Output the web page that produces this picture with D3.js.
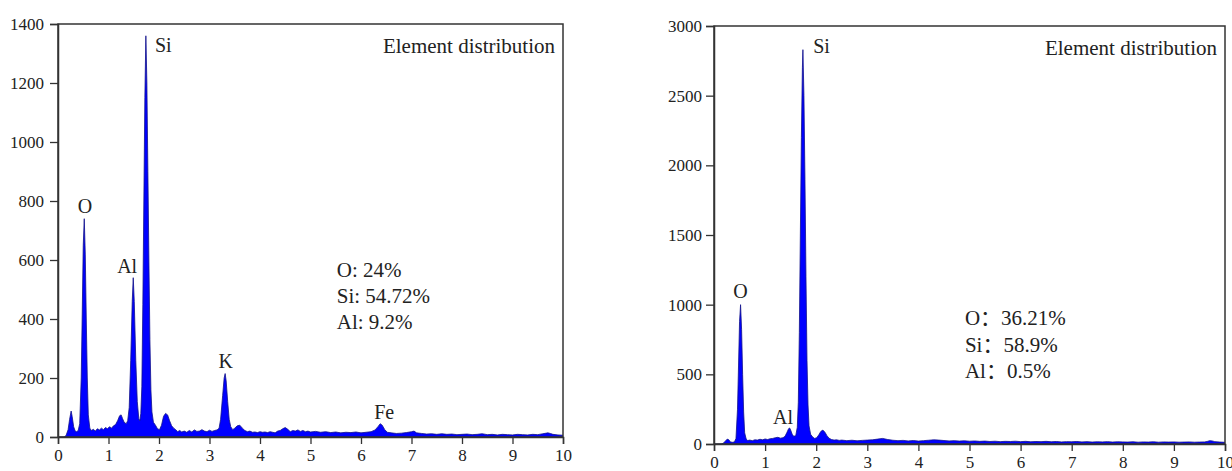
<!DOCTYPE html>
<html>
<head>
<meta charset="utf-8">
<script src="https://cdn.jsdelivr.net/npm/d3@7"></script>
<style>
  html, body { margin: 0; padding: 0; background: #fff; }
  svg { display: block; }
  text { font-family: "Liberation Serif", "Times New Roman", "Noto Sans CJK SC", serif; fill: #222; }
</style>
</head>
<body>
<svg id="chart" width="1232" height="471"></svg>
<script>
// ---------- DATA ----------
const xTicks = [0, 1, 2, 3, 4, 5, 6, 7, 8, 9, 10];
const yTicksA = [0, 200, 400, 600, 800, 1000, 1200, 1400];
const yTicksB = [0, 500, 1000, 1500, 2000, 2500, 3000];

// Spectrum A (left): energy (keV) and counts
const energyA = [0.00,0.12,0.16,0.20,0.23,0.26,0.28,0.31,0.34,0.37,0.40,0.43,0.46,0.48,0.50,0.52,0.54,0.56,0.58,0.60,0.63,0.66,0.70,0.74,0.78,0.82,0.86,0.90,0.94,0.98,1.02,1.06,1.10,1.14,1.18,1.22,1.25,1.28,1.31,1.35,1.38,1.41,1.44,1.47,1.49,1.51,1.54,1.57,1.60,1.62,1.64,1.66,1.68,1.70,1.72,1.74,1.76,1.78,1.80,1.82,1.84,1.86,1.89,1.93,1.97,2.01,2.05,2.09,2.13,2.17,2.21,2.25,2.29,2.33,2.37,2.41,2.45,2.50,2.55,2.60,2.65,2.70,2.75,2.80,2.85,2.90,2.95,3.00,3.05,3.10,3.15,3.19,3.22,3.26,3.29,3.31,3.33,3.36,3.39,3.42,3.46,3.50,3.55,3.60,3.65,3.70,3.75,3.80,3.85,3.90,3.95,4.00,4.05,4.10,4.15,4.20,4.25,4.30,4.35,4.40,4.45,4.50,4.55,4.60,4.65,4.70,4.75,4.80,4.85,4.90,4.95,5.00,5.10,5.20,5.30,5.40,5.50,5.60,5.70,5.80,5.90,6.00,6.10,6.20,6.28,6.34,6.38,6.42,6.47,6.52,6.60,6.70,6.80,6.90,7.00,7.05,7.10,7.20,7.30,7.40,7.50,7.60,7.70,7.80,7.90,8.00,8.10,8.20,8.30,8.40,8.50,8.60,8.70,8.80,8.90,9.00,9.10,9.20,9.30,9.40,9.50,9.60,9.70,9.75,9.80,9.90,10.00];
const countsA = [0,0,5,25,60,88,70,35,20,18,22,45,200,420,650,740,620,400,200,75,30,22,26,20,28,24,30,25,32,28,35,30,38,42,55,72,75,62,50,45,55,100,260,460,540,460,260,120,62,55,80,170,450,800,1150,1360,1200,900,600,330,160,85,50,40,28,25,40,70,80,75,55,38,30,25,18,22,17,20,16,22,17,24,19,20,25,20,18,23,19,22,24,30,60,140,200,215,190,120,60,35,25,30,38,40,30,22,18,20,16,17,15,18,16,17,15,18,16,14,20,22,28,32,26,18,22,20,24,19,22,18,20,17,19,16,18,15,17,14,16,15,17,14,16,18,24,36,45,40,25,16,14,12,13,15,18,20,14,12,10,11,9,11,9,10,8,9,10,8,9,11,8,9,7,9,8,7,9,8,7,9,8,11,14,12,9,7,6];

// Spectrum B (right): energy (keV) and counts
const energyB = [
  0.00,0.14,0.18,0.22,0.26,0.29,0.32,0.36,0.40,0.43,
  0.46,0.48,0.50,0.52,0.54,0.56,0.58,0.60,0.63,0.66,
  0.70,0.75,0.80,0.85,0.90,0.95,1.00,1.05,1.10,1.15,
  1.20,1.25,1.30,1.35,1.39,1.43,1.46,1.48,1.50,1.53,
  1.56,1.60,1.63,1.65,1.67,1.69,1.71,1.73,1.74,1.76,
  1.78,1.80,1.82,1.84,1.86,1.89,1.93,1.97,2.01,2.05,
  2.09,2.13,2.17,2.21,2.25,2.30,2.35,2.40,2.45,2.50,
  2.60,2.70,2.80,2.90,3.00,3.10,3.20,3.30,3.40,3.50,
  3.60,3.70,3.80,3.90,4.00,4.10,4.20,4.30,4.40,4.50,
  4.60,4.70,4.80,4.90,5.00,5.10,5.20,5.30,5.40,5.50,
  5.60,5.70,5.80,5.90,6.00,6.10,6.20,6.30,6.40,6.50,
  6.60,6.70,6.80,6.90,7.00,7.10,7.20,7.30,7.40,7.50,
  7.60,7.70,7.80,7.90,8.00,8.10,8.20,8.30,8.40,8.50,
  8.60,8.70,8.80,8.90,9.00,9.10,9.20,9.30,9.40,9.50,
  9.60,9.65,9.70,9.75,9.80,9.90,10.00];
const countsB = [
  0,0,5,20,35,30,15,12,15,40,
  250,560,880,1000,820,500,230,80,35,25,
  28,24,30,28,34,30,36,32,38,40,
  45,48,42,45,55,85,110,115,100,70,
  55,60,120,300,800,1500,2200,2700,2830,2500,
  1900,1200,600,280,130,70,50,40,45,65,
  90,100,85,60,42,32,28,30,26,28,
  24,27,23,26,28,30,35,40,32,27,
  24,26,22,25,21,24,27,30,28,25,
  22,24,21,23,20,22,19,21,18,20,
  17,19,18,20,17,19,16,18,17,19,
  16,18,15,17,16,18,15,17,14,16,
  15,17,14,16,15,14,16,13,15,14,
  16,13,15,14,15,13,14,15,13,14,
  15,18,24,22,17,14,12];

const labelsA = [
  {name: "Si", e: 1.92, c: 1305, anchor: "start"},
  {name: "O",  e: 0.535, c: 759, anchor: "middle"},
  {name: "Al", e: 1.37, c: 556, anchor: "middle"},
  {name: "K",  e: 3.32, c: 234, anchor: "middle"},
  {name: "Fe", e: 6.46, c: 61,  anchor: "middle"}
];
const labelsB = [
  {name: "Si", e: 1.94, c: 2807, anchor: "start"},
  {name: "O",  e: 0.52, c: 1048, anchor: "middle"},
  {name: "Al", e: 1.35, c: 144, anchor: "middle"}
];
const compositionA = ["O: 24%", "Si: 54.72%", "Al: 9.2%"];
const compositionB = ["O：36.21%", "Si：58.9%", "Al：0.5%"];
const titleText = "Element distribution";

// ---------- DRAW ----------
const svg = d3.select("#chart");
svg.append("rect").attr("width", 1232).attr("height", 471).attr("fill", "#fff");

function panel(opt) {
  const g = svg.append("g");
  const x = d3.scaleLinear().domain([0, 10]).range([opt.left, opt.right]);
  const y = d3.scaleLinear().domain([0, opt.ymax]).range([opt.bottom, opt.top]);
  const pts = opt.energy.map((e, i) => [e, opt.counts[i]]);

  const area = d3.area().x(d => x(d[0])).y0(y(0)).y1(d => y(d[1]));
  const line = d3.line().x(d => x(d[0])).y(d => y(d[1]));
  g.append("path").datum(pts).attr("d", area).attr("fill", "#0000ff");
  g.append("path").datum(pts).attr("d", line).attr("fill", "none")
    .attr("stroke", "#12128a").attr("stroke-width", 0.8);

  // frame
  g.append("rect").attr("x", opt.left).attr("y", opt.top)
    .attr("width", opt.right - opt.left).attr("height", opt.bottom - opt.top)
    .attr("fill", "none").attr("stroke", "#333").attr("stroke-width", 1.5);

  const xAxis = g.append("g").attr("transform", `translate(0,${opt.bottom})`)
    .call(d3.axisBottom(x).tickValues(xTicks).tickSize(7).tickPadding(5).tickFormat(d3.format("d")));
  const yAxis = g.append("g").attr("transform", `translate(${opt.left},0)`)
    .call(d3.axisLeft(y).tickValues(opt.yTicks).tickSize(8).tickPadding(opt.yPad).tickFormat(d3.format("d")));
  [xAxis, yAxis].forEach(a => {
    a.select(".domain").attr("stroke", "#333").attr("stroke-width", 1.5);
    a.selectAll(".tick line").attr("stroke", "#333").attr("stroke-width", 1.3);
    a.selectAll(".tick text").attr("font-size", 17)
      .attr("font-family", "'Liberation Serif', serif").attr("fill", "#222");
  });

  // peak labels
  g.selectAll("text.peak").data(opt.labels).enter().append("text")
    .attr("class", "peak")
    .attr("x", d => x(d.e)).attr("y", d => y(d.c))
    .attr("text-anchor", d => d.anchor).attr("font-size", 20).text(d => d.name);

  // title
  g.append("text").attr("x", opt.right - 8).attr("y", opt.top + 29)
    .attr("text-anchor", "end").attr("font-size", 21).text(titleText);

  // composition
  g.selectAll("text.comp").data(opt.comp).enter().append("text")
    .attr("class", "comp")
    .attr("x", x(opt.compE)).attr("y", (d, i) => y(opt.compC) + i * opt.compGap)
    .attr("font-size", 21).text(d => d);
}

panel({left: 58, right: 563, top: 24, bottom: 437, ymax: 1400, yTicks: yTicksA, yPad: 6,
       energy: energyA, counts: countsA, labels: labelsA, comp: compositionA,
       compE: 5.52, compC: 542, compGap: 26});
panel({left: 714, right: 1225, top: 26, bottom: 444, ymax: 3000, yTicks: yTicksB, yPad: 4,
       energy: energyB, counts: countsB, labels: labelsB, comp: compositionB,
       compE: 4.91, compC: 854, compGap: 26.5});
</script>
</body>
</html>
